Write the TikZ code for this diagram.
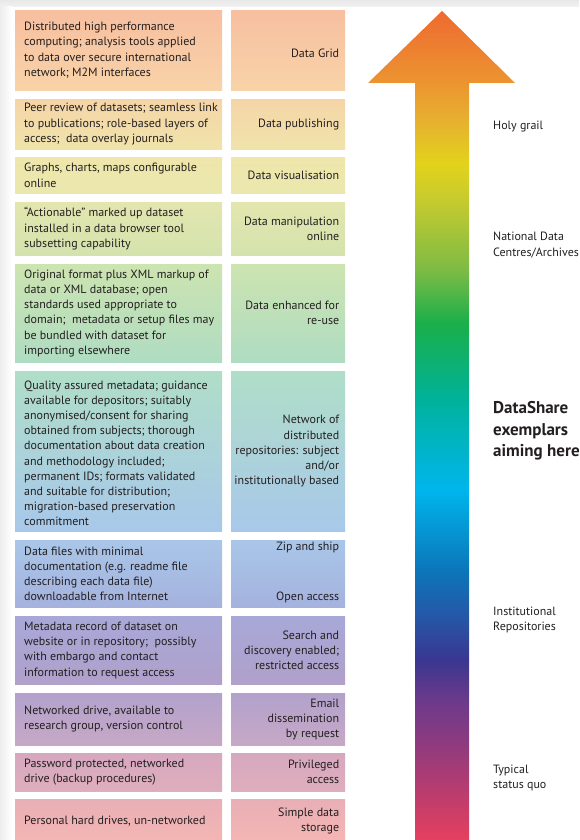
\documentclass[tikz,border=0pt]{standalone}
\usepackage{fontspec}
\setmainfont{PT Sans}
\definecolor{txt}{HTML}{231F20}
\definecolor{r1t}{HTML}{F7BFA0}\definecolor{r1b}{HTML}{F8D3A8}
\definecolor{r2t}{HTML}{F5D5A8}\definecolor{r2b}{HTML}{F0E3AA}
\definecolor{r3t}{HTML}{EEE6AB}\definecolor{r3b}{HTML}{EBE8AE}
\definecolor{r4t}{HTML}{E3E6AE}\definecolor{r4b}{HTML}{D4E3AE}
\definecolor{r5t}{HTML}{CDE4B0}\definecolor{r5b}{HTML}{AFDCC2}
\definecolor{r6t}{HTML}{B0DEC8}\definecolor{r6m}{HTML}{B0DFEE}\definecolor{r6b}{HTML}{A8C8EA}
\definecolor{r7t}{HTML}{A9C6E8}\definecolor{r7b}{HTML}{A5B2DE}
\definecolor{r8t}{HTML}{A8A8D8}\definecolor{r8b}{HTML}{B0A0CA}
\definecolor{r9t}{HTML}{B2A2CC}\definecolor{r9b}{HTML}{C6A8C6}
\definecolor{r10t}{HTML}{D6A8C0}\definecolor{r10b}{HTML}{DFAEBC}
\definecolor{r11t}{HTML}{E8AFB6}\definecolor{r11b}{HTML}{F5B6B4}
\definecolor{a840}{HTML}{E5405F}
\definecolor{a790}{HTML}{B83C6E}
\definecolor{a740}{HTML}{8C3A80}
\definecolor{a700}{HTML}{6B3A8A}
\definecolor{a660}{HTML}{3A3690}
\definecolor{a615}{HTML}{2558A8}
\definecolor{a570}{HTML}{0B76BA}
\definecolor{a490}{HTML}{00B5EC}
\definecolor{a430}{HTML}{00B4B8}
\definecolor{a400}{HTML}{00B29A}
\definecolor{a323}{HTML}{1AAF4A}
\definecolor{a270}{HTML}{7DBB45}
\definecolor{a200}{HTML}{C6CB2E}
\definecolor{a163}{HTML}{E3D21C}
\definecolor{a120}{HTML}{E6B030}
\definecolor{a84}{HTML}{EC9530}
\definecolor{a11}{HTML}{EE6A30}
\pgfdeclareverticalshading{rainbowarrow}{100bp}{%
color(0bp)=(a840); color(25bp)=(a840); color(28.02bp)=(a790); color(31.03bp)=(a740);
color(33.44bp)=(a700); color(35.86bp)=(a660); color(38.57bp)=(a615); color(41.28bp)=(a570);
color(46.11bp)=(a490); color(49.73bp)=(a430); color(51.54bp)=(a400); color(56.18bp)=(a323);
color(59.38bp)=(a270); color(63.60bp)=(a200); color(65.83bp)=(a163); color(68.43bp)=(a120);
color(70.60bp)=(a84); color(75bp)=(a11); color(100bp)=(a11)}
\newcommand{\boxfont}{\fontsize{12}{15.2}\selectfont}
\begin{document}
\begin{tikzpicture}[x=1pt,y=-1pt,
  lbox/.style={anchor=north west, minimum width=207pt, inner sep=0pt},
  rbox/.style={anchor=north west, minimum width=114pt, inner sep=0pt},
  ltext/.style={anchor=west, inner sep=0pt, align=left, font=\boxfont, text=txt},
  rtext/.style={anchor=east, inner sep=0pt, align=right, font=\boxfont, text=txt},
  sidelabel/.style={anchor=west, align=left, inner sep=0pt, font=\boxfont, text=txt},
  biglabel/.style={anchor=west, align=left, inner sep=0pt, font=\fontsize{17}{21.5}\selectfont\bfseries, text=txt}]
\useasboundingbox (0,0) rectangle (579,840);
% background
\shade[top color=black!9, bottom color=black!5] (0,0) rectangle (579,7);
\shade[left color=black!7, right color=white] (0,7) rectangle (12,840);
% row 1
\node[lbox, minimum height=80pt, top color=r1t, bottom color=r1b] (L1) at (15,10) {};
\node[ltext] (L1t) at ([xshift=9pt]L1.west) {Distributed high performance\\computing; analysis tools applied\\to data over secure international\\network; M2M interfaces};
\node[rbox, minimum height=80pt, top color=r1t, bottom color=r1b] (R1) at (231,10) {};
\node[rtext] (R1t) at ([xshift=-6pt,yshift=-3pt]R1.east) {Data Grid};
% row 2
\node[lbox, minimum height=50pt, top color=r2t, bottom color=r2b] (L2) at (15,99) {};
\node[ltext] (L2t) at ([xshift=9pt]L2.west) {Peer review of datasets; seamless link\\to publications; role-based layers of\\access;\ \ data overlay journals};
\node[rbox, minimum height=50pt, top color=r2t, bottom color=r2b] (R2) at (231,99) {};
\node[rtext] (R2t) at ([xshift=-6pt]R2.east) {Data publishing};
% row 3
\node[lbox, minimum height=36pt, top color=r3t, bottom color=r3b] (L3) at (15,157) {};
\node[ltext] (L3t) at ([xshift=9pt]L3.west) {Graphs, charts, maps configurable\\online};
\node[rbox, minimum height=36pt, top color=r3t, bottom color=r3b] (R3) at (231,157) {};
\node[rtext] (R3t) at ([xshift=-6pt]R3.east) {Data visualisation};
% row 4
\node[lbox, minimum height=53pt, top color=r4t, bottom color=r4b] (L4) at (15,202) {};
\node[ltext] (L4t) at ([xshift=9pt]L4.west) {“Actionable” marked up dataset\\installed in a data browser tool\\subsetting capability};
\node[rbox, minimum height=53pt, top color=r4t, bottom color=r4b] (R4) at (231,202) {};
\node[rtext] (R4t) at ([xshift=-6pt]R4.east) {Data manipulation\\online};
% row 5
\node[lbox, minimum height=98pt, top color=r5t, bottom color=r5b] (L5) at (15,264) {};
\node[ltext] (L5t) at ([xshift=9pt]L5.west) {Original format plus XML markup of\\data or XML database; open\\standards used appropriate to\\domain;\ \ metadata or setup files may\\be bundled with dataset for\\importing elsewhere};
\node[rbox, minimum height=98pt, top color=r5t, bottom color=r5b] (R5) at (231,264) {};
\node[rtext] (R5t) at ([xshift=-6pt]R5.east) {Data enhanced for\\re-use};
% row 6
\node[lbox, minimum height=160pt, top color=r6t, middle color=r6m, bottom color=r6b] (L6) at (15,371) {};
\node[ltext] (L6t) at ([xshift=9pt,yshift=-2pt]L6.west) {Quality assured metadata; guidance\\available for depositors; suitably\\anonymised/consent for sharing\\obtained from subjects; thorough\\documentation about data creation\\and methodology included;\\permanent IDs; formats validated\\and suitable for distribution;\\migration-based preservation\\commitment};
\node[rbox, minimum height=160pt, top color=r6t, middle color=r6m, bottom color=r6b] (R6) at (231,371) {};
\node[rtext] (R6t) at ([xshift=-6pt]R6.east) {Network of\\distributed\\repositories: subject\\and/or\\institutionally based};
% row 7
\node[lbox, minimum height=67pt, top color=r7t, bottom color=r7b] (L7) at (15,540) {};
\node[ltext] (L7t) at ([xshift=9pt]L7.west) {Data files with minimal\\documentation (e.g. readme file\\describing each data file)\\downloadable from Internet};
\node[rbox, minimum height=67pt, top color=r7t, bottom color=r7b] (R7) at (231,540) {};
\node[anchor=north east, inner sep=0pt, font=\boxfont, text=txt] (R7a) at ([xshift=-6pt,yshift=-2pt]R7.north east) {Zip and ship};
\node[anchor=south east, inner sep=0pt, font=\boxfont, text=txt] (R7b) at ([xshift=-6pt,yshift=4pt]R7.south east) {Open access};
% row 8
\node[lbox, minimum height=68pt, top color=r8t, bottom color=r8b] (L8) at (15,616) {};
\node[ltext] (L8t) at ([xshift=9pt]L8.west) {Metadata record of dataset on\\website or in repository;\ \ possibly\\with embargo and contact\\information to request access};
\node[rbox, minimum height=68pt, top color=r8t, bottom color=r8b] (R8) at (231,616) {};
\node[rtext] (R8t) at ([xshift=-6pt]R8.east) {Search and\\discovery enabled;\\restricted access};
% row 9
\node[lbox, minimum height=52pt, top color=r9t, bottom color=r9b] (L9) at (15,693) {};
\node[ltext] (L9t) at ([xshift=9pt]L9.west) {Networked drive, available to\\research group, version control};
\node[rbox, minimum height=52pt, top color=r9t, bottom color=r9b] (R9) at (231,693) {};
\node[rtext] (R9t) at ([xshift=-6pt]R9.east) {Email\\dissemination\\by request};
% row 10
\node[lbox, minimum height=38pt, top color=r10t, bottom color=r10b] (L10) at (15,753) {};
\node[ltext] (L10t) at ([xshift=9pt]L10.west) {Password protected, networked\\drive (backup procedures)};
\node[rbox, minimum height=38pt, top color=r10t, bottom color=r10b] (R10) at (231,753) {};
\node[rtext] (R10t) at ([xshift=-6pt]R10.east) {Privileged\\access};
% row 11
\node[lbox, minimum height=43pt, top color=r11t, bottom color=r11b] (L11) at (15,799) {};
\node[ltext] (L11t) at ([xshift=9pt]L11.west) {Personal hard drives, un-networked};
\node[rbox, minimum height=43pt, top color=r11t, bottom color=r11b] (R11) at (231,799) {};
\node[rtext] (R11t) at ([xshift=-6pt]R11.east) {Simple data\\storage};
% arrow
\shade[shading=rainbowarrow] (442,11) -- (515,83) -- (469,83) -- (469,840) -- (415,840) -- (415,83) -- (368,83) -- cycle;
% side labels
\node[sidelabel] (holy) at (493,127) {Holy grail};
\node[sidelabel] (natl) at (493,245) {National Data\\Centres/Archives};
\node[biglabel] (ds) at (493,431) {DataShare\\exemplars\\aiming here};
\node[sidelabel] (inst) at (493,620) {Institutional\\Repositories};
\node[sidelabel] (typ) at (493,778) {Typical\\status quo};
\end{tikzpicture}
\end{document}
